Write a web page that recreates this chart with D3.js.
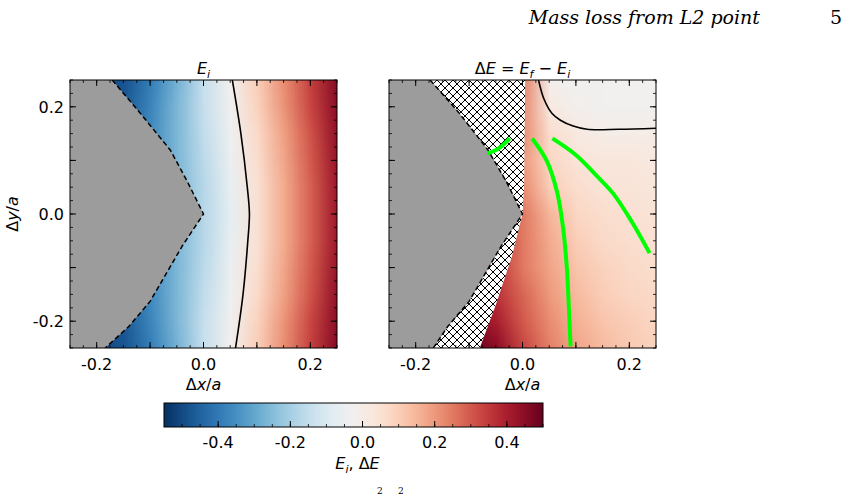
<!DOCTYPE html>
<html><head><meta charset="utf-8">
<script src="https://cdn.jsdelivr.net/npm/d3@7"></script>
<style>body{margin:0;background:#fff}svg{font-family:"DejaVu Sans",sans-serif}</style>
</head><body><svg id="chart" width="850" height="499"></svg>
<script>
// grid sample positions (both axes, Δx/a and Δy/a)
const gridX = [-0.25,-0.2,-0.15,-0.1,-0.05,0,0.05,0.1,0.15,0.2,0.25];
const gridY = [0.25,0.2,0.15,0.1,0.05,0,-0.05,-0.1,-0.15,-0.2,-0.25];
// E_i, rows top to bottom
const eiGrid = [
 [-0.5,-0.5,-0.48,-0.39,-0.27,-0.14,-0.02,0.1,0.22,0.34,0.46],
 [-0.5,-0.5,-0.47,-0.37,-0.26,-0.14,-0.03,0.09,0.21,0.33,0.45],
 [-0.5,-0.5,-0.46,-0.36,-0.26,-0.15,-0.04,0.07,0.19,0.31,0.44],
 [-0.5,-0.5,-0.46,-0.36,-0.26,-0.16,-0.05,0.06,0.18,0.3,0.43],
 [-0.5,-0.5,-0.46,-0.36,-0.26,-0.17,-0.06,0.05,0.17,0.29,0.42],
 [-0.5,-0.5,-0.46,-0.36,-0.26,-0.17,-0.07,0.05,0.17,0.29,0.42],
 [-0.5,-0.5,-0.46,-0.36,-0.26,-0.17,-0.06,0.05,0.17,0.29,0.42],
 [-0.5,-0.5,-0.46,-0.36,-0.26,-0.16,-0.05,0.06,0.18,0.3,0.43],
 [-0.5,-0.5,-0.46,-0.36,-0.26,-0.15,-0.04,0.07,0.19,0.31,0.44],
 [-0.5,-0.5,-0.47,-0.37,-0.26,-0.14,-0.03,0.09,0.21,0.33,0.45],
 [-0.5,-0.5,-0.48,-0.39,-0.27,-0.14,-0.02,0.1,0.22,0.34,0.46]
];
// ΔE, rows top to bottom
const deGrid = [
 [0.3,0.3,0.3,0.3,0.3,0.24,-0.02,-0.03,-0.03,-0.03,-0.03],
 [0.3,0.3,0.3,0.3,0.3,0.22,0.02,-0.02,-0.03,-0.03,-0.03],
 [0.3,0.3,0.3,0.3,0.3,0.22,0.06,0.02,0.0,0.0,0.0],
 [0.3,0.3,0.3,0.3,0.3,0.2,0.08,0.04,0.03,0.03,0.02],
 [0.3,0.3,0.3,0.3,0.3,0.22,0.1,0.06,0.04,0.04,0.03],
 [0.32,0.32,0.32,0.32,0.32,0.25,0.15,0.08,0.06,0.05,0.04],
 [0.35,0.35,0.35,0.35,0.35,0.25,0.17,0.1,0.07,0.06,0.05],
 [0.35,0.35,0.35,0.35,0.35,0.25,0.18,0.12,0.09,0.07,0.06],
 [0.4,0.4,0.4,0.4,0.36,0.28,0.2,0.14,0.1,0.08,0.07],
 [0.45,0.45,0.45,0.45,0.4,0.3,0.22,0.16,0.12,0.1,0.08],
 [0.5,0.5,0.5,0.5,0.45,0.33,0.24,0.18,0.14,0.11,0.09]
];
// boundaries
const grayLeft = [[-0.171,0.25],[-0.12,0.19],[-0.062,0.119],[-0.03,0.06],[0,0],[-0.04,-0.06],[-0.1,-0.163],[-0.14,-0.21],[-0.184,-0.25]];
const grayRight = [[-0.173,0.25],[-0.12,0.19],[-0.065,0.12],[-0.03,0.06],[0,0],[-0.04,-0.06],[-0.1,-0.163],[-0.14,-0.21],[-0.167,-0.25]];
const hatchEdge = [[0.005,0.25],[0.004,0.15],[0.003,0.05],[0,0],[-0.02,-0.08],[-0.05,-0.17],[-0.08,-0.25]];
const contourLeft = [[0.054,0.25],[0.07,0.15],[0.082,0.05],[0.086,0],[0.083,-0.05],[0.074,-0.15],[0.06,-0.25]];
const contourRight = [[0.03,0.25],[0.04,0.215],[0.055,0.188],[0.071,0.175],[0.095,0.164],[0.121,0.158],[0.18,0.158],[0.25,0.16]];
const greenLines = [
 [[-0.066,0.113],[-0.045,0.122],[-0.024,0.141]],
 [[0.018,0.141],[0.045,0.1],[0.065,0.04],[0.076,-0.026],[0.083,-0.1],[0.087,-0.18],[0.09,-0.247]],
 [[0.056,0.141],[0.1,0.11],[0.14,0.07],[0.17,0.038],[0.205,-0.015],[0.238,-0.073]]
];
const ticks = [-0.2,0,0.2];
const cbTicks = [-0.4,-0.2,0,0.2,0.4];
const cbDomain = [-0.55,0.5];

const svg = d3.select('#chart');
const color = v => d3.interpolateRdBu(1 - (v - cbDomain[0]) / (cbDomain[1] - cbDomain[0]));
const fmt = d => d3.format('.1f')(d).replace('−','-');

function heat(grid) {
  const c = document.createElement('canvas');
  c.width = gridX.length; c.height = gridY.length;
  const ctx = c.getContext('2d');
  grid.forEach((row, j) => row.forEach((v, i) => { ctx.fillStyle = color(v); ctx.fillRect(i, j, 1, 1); }));
  const big = document.createElement('canvas');
  big.width = 550; big.height = 550;
  const b = big.getContext('2d');
  b.imageSmoothingEnabled = true;
  b.drawImage(c, 0, 0, 550, 550);
  return big.toDataURL();
}

function panel(x0, grid, gray, hatch, contour, greens, title, ylab, id) {
  const w = 267, h = 268, y0 = 80;
  const x = d3.scaleLinear().domain([-0.25,0.25]).range([0,w]);
  const y = d3.scaleLinear().domain([-0.25,0.25]).range([h,0]);
  const g = svg.append('g').attr('transform', `translate(${x0},${y0})`);
  g.append('clipPath').attr('id','clip'+id).append('rect').attr('width',w).attr('height',h);
  const pg = g.append('g').attr('clip-path',`url(#clip${id})`);
  pg.append('image').attr('href', heat(grid))
    .attr('x', x(-0.275)).attr('y', y(0.275))
    .attr('width', x(0.275)-x(-0.275)).attr('height', y(-0.275)-y(0.275))
    .attr('preserveAspectRatio','none');
  const line = d3.line().x(d => x(d[0])).y(d => y(d[1])).curve(d3.curveCatmullRom);
  const lin = d3.line().x(d => x(d[0])).y(d => y(d[1]));
  if (hatch) {
    const poly = gray.concat(hatch.slice().reverse());
    pg.append('path').attr('d', lin(poly) + 'Z').attr('fill','#fff');
    pg.append('path').attr('d', lin(poly) + 'Z').attr('fill','url(#hatch)');
  }
  const gp = [[-0.3,0.25]].concat(gray).concat([[-0.3,-0.25]]);
  pg.append('path').attr('d', lin(gp) + 'Z').attr('fill','#9c9c9c');
  pg.append('path').attr('d', lin(gray)).attr('fill','none').attr('stroke','#000')
    .attr('stroke-width',1.5).attr('stroke-dasharray','5,3');
  pg.append('path').attr('d', line(contour)).attr('fill','none').attr('stroke','#000').attr('stroke-width',1.6);
  (greens || []).forEach(l => pg.append('path').attr('d', line(l)).attr('fill','none')
    .attr('stroke','#00ff00').attr('stroke-width',4).attr('stroke-linecap','butt'));
  // ticks inward on all sides
  const minor = d3.range(-0.25,0.2501,0.025);
  const tk = (vals, len, sw) => vals.forEach(v => {
    g.append('line').attr('x1',x(v)).attr('x2',x(v)).attr('y1',h).attr('y2',h-len).attr('stroke','#000').attr('stroke-width',sw);
    g.append('line').attr('x1',x(v)).attr('x2',x(v)).attr('y1',0).attr('y2',len).attr('stroke','#000').attr('stroke-width',sw);
    g.append('line').attr('y1',y(v)).attr('y2',y(v)).attr('x1',0).attr('x2',len).attr('stroke','#000').attr('stroke-width',sw);
    g.append('line').attr('y1',y(v)).attr('y2',y(v)).attr('x1',w).attr('x2',w-len).attr('stroke','#000').attr('stroke-width',sw);
  });
  tk(minor, 3, 0.8);
  tk(d3.range(-0.2,0.2001,0.1), 6, 1);
  g.append('rect').attr('width',w).attr('height',h).attr('fill','none').attr('stroke','#000').attr('stroke-width',1);
  ticks.forEach(t => g.append('text').attr('x',x(t)).attr('y',h+22).attr('text-anchor','middle')
    .attr('font-size',16).text(fmt(t)));
  g.append('text').attr('x',w/2).attr('y',h+42).attr('text-anchor','middle').attr('font-size',16)
    .html('Δ<tspan font-style="italic">x</tspan>/<tspan font-style="italic">a</tspan>');
  g.append('text').attr('x',w/2).attr('y',-6).attr('text-anchor','middle').attr('font-size',16).html(title);
  if (ylab) {
    ticks.forEach(t => g.append('text').attr('x',-6).attr('y',y(t)+6).attr('text-anchor','end')
      .attr('font-size',16).text(fmt(t)));
    g.append('text').attr('transform',`translate(-52,${h/2}) rotate(-90)`).attr('text-anchor','middle').attr('font-size',16)
      .html('Δ<tspan font-style="italic">y</tspan>/<tspan font-style="italic">a</tspan>');
  }
}

const defs = svg.append('defs');
const pat = defs.append('pattern').attr('id','hatch').attr('patternUnits','userSpaceOnUse').attr('width',8).attr('height',8);
pat.append('path').attr('d','M0,8 L8,0 M-2,2 L2,-2 M6,10 L10,6').attr('stroke','#000').attr('stroke-width',1);
pat.append('path').attr('d','M0,0 L8,8 M-2,6 L2,10 M6,-2 L10,2').attr('stroke','#000').attr('stroke-width',1);

panel(70, eiGrid, grayLeft, null, contourLeft, null,
  '<tspan font-style="italic">E</tspan><tspan font-style="italic" font-size="11" dy="4">i</tspan>', true, 'a');
panel(389, deGrid, grayRight, hatchEdge, contourRight, greenLines,
  'Δ<tspan font-style="italic">E</tspan> = <tspan font-style="italic">E</tspan><tspan font-style="italic" font-size="11" dy="4">f</tspan><tspan dy="-4"> − </tspan><tspan font-style="italic">E</tspan><tspan font-style="italic" font-size="11" dy="4">i</tspan>', false, 'b');

// colorbar
const cbX = d3.scaleLinear().domain(cbDomain).range([164,543]);
const grad = defs.append('linearGradient').attr('id','cb');
d3.range(0,1.0001,0.05).forEach(t => grad.append('stop').attr('offset',t)
  .attr('stop-color', color(cbDomain[0] + t*(cbDomain[1]-cbDomain[0]))));
svg.append('rect').attr('x',164).attr('y',403).attr('width',379).attr('height',24).attr('fill','url(#cb)').attr('stroke','#000');
d3.range(-0.5,0.5001,0.05).forEach(v => svg.append('line').attr('x1',cbX(v)).attr('x2',cbX(v))
  .attr('y1',427).attr('y2',424).attr('stroke','#000').attr('stroke-width',0.8));
cbTicks.forEach(v => {
  svg.append('line').attr('x1',cbX(v)).attr('x2',cbX(v)).attr('y1',427).attr('y2',421).attr('stroke','#000');
  svg.append('text').attr('x',cbX(v)).attr('y',448).attr('text-anchor','middle').attr('font-size',16).text(fmt(v));
});
svg.append('text').attr('x',cbX(0)-5).attr('y',469).attr('text-anchor','middle').attr('font-size',16)
  .html('<tspan font-style="italic">E</tspan><tspan font-style="italic" font-size="11" dy="4">i</tspan><tspan dy="-4">, Δ</tspan><tspan font-style="italic">E</tspan>');

// page header
svg.append('text').attr('x',760).attr('y',24).attr('text-anchor','end').attr('font-size',19)
  .attr('font-family','"DejaVu Serif",serif').attr('font-style','italic').text('Mass loss from L2 point');
svg.append('text').attr('x',842).attr('y',24).attr('text-anchor','end').attr('font-size',19)
  .attr('font-family','"DejaVu Serif",serif').text('5');
svg.append('text').attr('x',377).attr('y',494).attr('font-size',9).attr('font-family','"DejaVu Serif",serif').text('2');
svg.append('text').attr('x',398).attr('y',494).attr('font-size',9).attr('font-family','"DejaVu Serif",serif').text('2');
</script></body></html>
